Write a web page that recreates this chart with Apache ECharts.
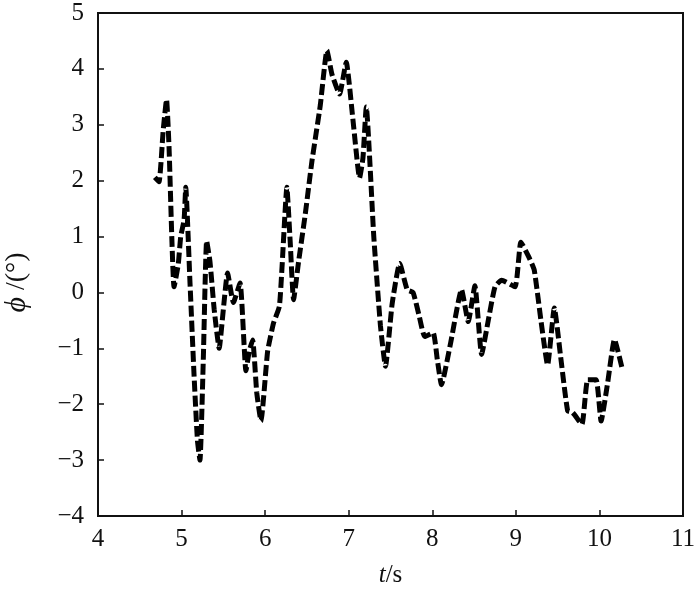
<!DOCTYPE html>
<html>
<head>
<meta charset="utf-8">
<script src="https://cdn.jsdelivr.net/npm/echarts@6/dist/echarts.min.js"></script>
<style>html,body{margin:0;padding:0;background:#fff}#c{width:700px;height:591px}</style>
</head>
<body>
<div id="c"></div>
<script>
const tValues = [4.68,4.73,4.78,4.82,4.85,4.91,4.96,4.99,5.03,5.05,5.10,5.15,5.19,5.22,5.26,5.30,5.34,5.39,5.45,5.50,5.55,5.62,5.70,5.77,5.81,5.85,5.90,5.95,6.03,6.10,6.17,6.20,6.26,6.30,6.34,6.40,6.48,6.56,6.66,6.74,6.80,6.89,6.97,7.05,7.13,7.17,7.21,7.30,7.38,7.44,7.52,7.61,7.70,7.77,7.84,7.91,8.01,8.06,8.11,8.22,8.35,8.43,8.51,8.59,8.67,8.75,8.83,8.99,9.06,9.15,9.22,9.30,9.38,9.46,9.54,9.62,9.68,9.79,9.86,9.96,10.02,10.10,10.18,10.27];
const phiValues = [2.06,1.98,2.9,3.45,2.6,0.10,0.5,1.0,1.3,1.88,0.2,-1.5,-2.65,-3.0,-1.2,0.92,0.55,-0.3,-1.0,-0.3,0.35,-0.18,0.17,-1.40,-1.05,-0.85,-1.8,-2.30,-1.05,-0.55,-0.25,0.4,1.88,0.9,-0.13,0.55,1.4,2.35,3.35,4.33,3.9,3.55,4.12,3.1,2.05,2.4,3.32,1.0,-0.6,-1.32,-0.2,0.52,0.05,0.0,-0.4,-0.79,-0.72,-1.2,-1.65,-0.9,0.05,-0.52,0.12,-1.11,-0.5,0.1,0.22,0.1,0.9,0.65,0.4,-0.5,-1.3,-0.28,-1.2,-2.12,-2.15,-2.36,-1.56,-1.56,-2.3,-1.6,-0.84,-1.35];
const xTicks = [4,5,6,7,8,9,10,11];
const yTicks = [-4,-3,-2,-1,0,1,2,3,4,5];

const data = tValues.map((t,i)=>[t, phiValues[i]]);
const font = '"Liberation Serif"';
const chart = echarts.init(document.getElementById('c'));
chart.setOption({
  animation:false,
  backgroundColor:'#fff',
  grid:{left:98,right:17,top:13,bottom:75,show:true,borderColor:'#111',borderWidth:2,backgroundColor:'transparent',outerBoundsMode:'none',containLabel:false},
  xAxis:{
    type:'value',min:xTicks[0],max:xTicks[xTicks.length-1],interval:1,
    axisLine:{show:true,onZero:false,lineStyle:{color:'#111',width:2}},
    axisTick:{show:true,inside:true,length:6,lineStyle:{color:'#111',width:1.5}},
    splitLine:{show:false},
    axisLabel:{color:'#111',fontFamily:font,fontSize:25,margin:11},
    name:'{i|t}/s',nameLocation:'middle',nameGap:47,
    nameTextStyle:{color:'#111',fontFamily:font,fontSize:25,rich:{i:{fontStyle:'italic',fontFamily:font,fontSize:25,color:'#111'}}}
  },
  yAxis:{
    type:'value',min:yTicks[0],max:yTicks[yTicks.length-1],interval:1,
    axisLine:{show:true,onZero:false,lineStyle:{color:'#111',width:2}},
    axisTick:{show:true,inside:true,length:6,lineStyle:{color:'#111',width:1.5}},
    splitLine:{show:false},
    axisLabel:{color:'#111',fontFamily:font,fontSize:25,margin:14,formatter:v=>String(v).replace('-','\u2212')},
    name:'{i|\u03D5} /(°)',nameLocation:'middle',nameGap:66,nameRotate:90,
    nameTextStyle:{color:'#111',fontFamily:font,fontSize:28,padding:[0,36,0,0],rich:{i:{fontStyle:'italic',fontFamily:font,fontSize:30,color:'#111'}}}
  },
  series:[{
    type:'line',data:data,smooth:0.15,showSymbol:false,
    lineStyle:{color:'#000',width:5,type:[11,4]}
  }]
});
</script>
</body>
</html>
